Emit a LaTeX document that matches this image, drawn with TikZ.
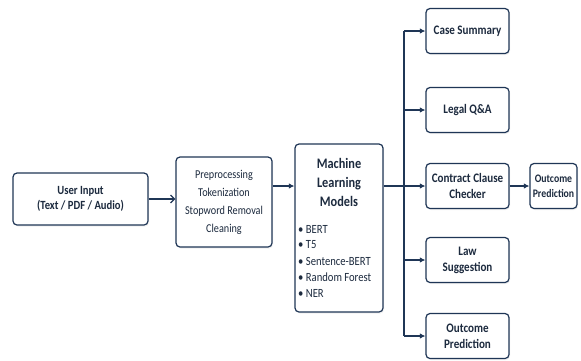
\documentclass[tikz,border=0pt]{standalone}
\usepackage{fontspec}
\setmainfont[FakeStretch=0.85]{Carlito}
\usetikzlibrary{arrows.meta,shadows}
\definecolor{navy}{HTML}{1F3656}
\definecolor{txt}{HTML}{1C2A3E}
\begin{document}
\begin{tikzpicture}[x=1pt,y=-1pt,
  box/.style={draw=navy, line width=1.2pt, rounded corners=4pt, fill=white,
    drop shadow={shadow xshift=1pt,shadow yshift=-1.5pt,opacity=0.12},
    align=center, text=txt, inner sep=0pt},
  lbl/.style={text=txt, inner sep=0pt, align=center},
  conn/.style={draw=navy, line width=1.2pt},
  arr/.style={conn, -{Latex[length=5.5pt,width=5.5pt]}},
  openarr/.style={conn, -{Straight Barb[length=4pt,width=8pt]}},
  bul/.style={text=txt, inner sep=0pt, anchor=west, font=\fontsize{12.5}{14}\selectfont}
]
\useasboundingbox (0,0) rectangle (581,360);
\fill[white] (0,0) rectangle (581,360);

\node[box, minimum width=135pt, minimum height=52pt, font=\bfseries\fontsize{12.5}{15}\selectfont] (user) at (80.5,199) {User Input\\(Text / PDF / Audio)};
\node[box, minimum width=96pt, minimum height=90pt, font=\fontsize{12}{18}\selectfont] (pre) at (224,202) {Preprocessing\\Tokenization\\Stopword Removal\\Cleaning};
\node[box, minimum width=88pt, minimum height=168pt] (ml) at (339,228) {};
\node[lbl, font=\bfseries\fontsize{14.5}{19}\selectfont] (mlt) at (339,182) {Machine\\Learning\\Models};
\foreach \i/\t in {0/BERT,1/T5,2/Sentence-BERT,3/Random Forest,4/NER}{
  \node[bul] (b\i) at (298,229+16*\i) {\textbullet\ \t};
}

\tikzset{rbox/.style={box, minimum width=83pt, minimum height=45pt, font=\bfseries\fontsize{13}{16}\selectfont}}
\node[rbox] (case) at (467.5,31) {Case Summary};
\node[rbox] (qa) at (467.5,110) {Legal Q\&A};
\node[rbox] (cc) at (467.5,186) {Contract Clause\\Checker};
\node[rbox] (law) at (467.5,260) {Law\\Suggestion};
\node[rbox] (out) at (467.5,336) {Outcome\\Prediction};
\node[box, minimum width=47pt, minimum height=45pt, font=\bfseries\fontsize{11.5}{15}\selectfont] (out2) at (553.5,186) {Outcome\\Prediction};

\coordinate (ttop) at (404,31);
\coordinate (tbot) at (404,336);
\coordinate (tmid) at (404,186);

\draw[openarr] (user.east) -- (pre.west |- user.east);
\draw[arr] (pre.east |- 0,186) -- (ml.west |- 0,186);
\draw[conn] (ml.east |- tmid) -- (tmid);
\draw[conn] (ttop) -- (tbot);
\draw[arr] (ttop) -- (case.west);
\draw[arr] (ttop |- qa.west) -- (qa.west);
\draw[arr] (tmid) -- (cc.west);
\draw[arr] (ttop |- law.west) -- (law.west);
\draw[arr] (tbot) -- (out.west);
\draw[arr] (cc.east) -- (out2.west);
\end{tikzpicture}
\end{document}
